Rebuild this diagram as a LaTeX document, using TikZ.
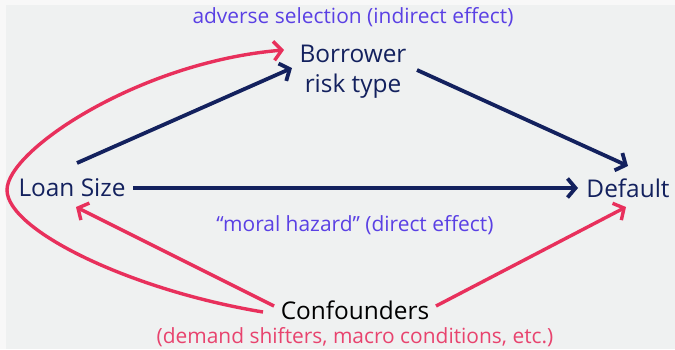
\documentclass[tikz,border=0pt]{standalone}
\usepackage{fontspec}
\setmainfont{Open Sans}
\usetikzlibrary{arrows.meta}
\definecolor{bgc}{HTML}{EFF1F1}
\definecolor{edgec}{HTML}{F8F8F8}
\definecolor{navy}{HTML}{13215E}
\definecolor{pinkc}{HTML}{E8305C}
\definecolor{purp}{HTML}{5A40E4}
\definecolor{pinkt}{HTML}{E8436E}
\tikzset{
  mainlbl/.style={inner sep=0pt, font=\fontsize{24.5}{30}\selectfont, text=navy},
  sublbl/.style={inner sep=0pt, font=\fontsize{21}{24}\selectfont},
  navyarr/.style={draw=navy, line width=3.8bp, -{Straight Barb[length=8bp,width=19bp]}},
  pinkarr/.style={draw=pinkc, line width=3.4bp, -{Straight Barb[length=8bp,width=19bp]}},
}
\begin{document}
\begin{tikzpicture}[x=1bp,y=-1bp]
\useasboundingbox (0,0) rectangle (675,349);
\fill[edgec] (0,0) rectangle (675,349);
\fill[bgc] (6,5) rectangle (675,349);

\node[mainlbl] (lsz) at (72,188) {Loan Size};
\node[mainlbl] (def) at (628,188) {Default};
\node[mainlbl, align=center, font=\fontsize{24.5}{30}\selectfont] (bor) at (353,72) {Borrower\\risk type};
\node[mainlbl, text=black] (con) at (355,310) {Confounders};
\node[sublbl, text=purp] (advs) at (353,17) {adverse selection (indirect effect)};
\node[sublbl, text=purp] (moral) at (355,225) {“moral hazard” (direct effect)};
\node[sublbl, text=pinkt] (conlbl) at (355,337) {(demand shifters, macro conditions, etc.)};

\draw[navyarr] ([xshift=5bp,yshift=25bp]lsz.center) -- ([xshift=-61bp,yshift=4bp]bor.center);
\draw[navyarr] ([xshift=64bp,yshift=2bp]bor.center) -- ([yshift=22bp]def.center);
\draw[navyarr] ([xshift=61bp]lsz.center) -- ([xshift=-50bp]def.center);
\draw[pinkarr] ([xshift=-81bp,yshift=4bp]con.center) -- ([xshift=4bp,yshift=-19bp]lsz.center);
\draw[pinkarr] ([xshift=81bp,yshift=4bp]con.center) -- ([xshift=-2bp,yshift=-19bp]def.center);
\draw[pinkarr] ([xshift=-92bp,yshift=-2bp]con.center) .. controls (130,290) and (7,230) .. (7,190)
  .. controls (7,150) and (140,62) .. ([xshift=-69bp,yshift=22bp]bor.center);
\end{tikzpicture}
\end{document}
